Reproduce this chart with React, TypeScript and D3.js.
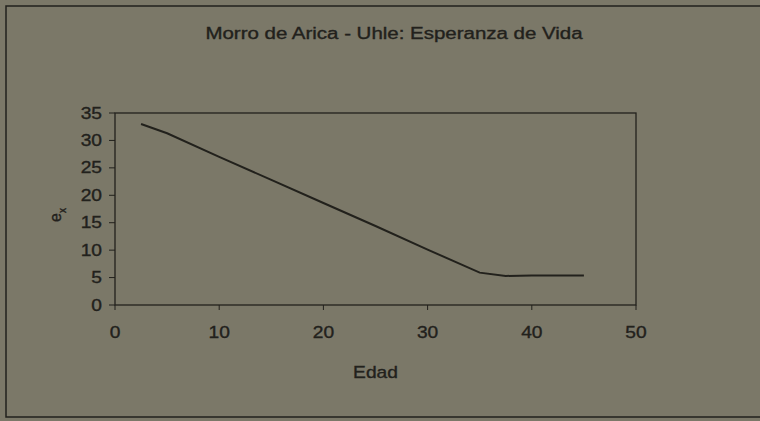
import React from "react"
import { scaleLinear, line } from "d3"

const edad = [2.5, 5, 10, 15, 20, 25, 30, 35, 37.5, 40, 45]
const ex = [33, 31.3, 27, 22.8, 18.6, 14.4, 10.1, 5.9, 5.3, 5.4, 5.4]
const xTicks = [0, 10, 20, 30, 40, 50]
const yTicks = [0, 5, 10, 15, 20, 25, 30, 35]

const title = "Morro de Arica - Uhle: Esperanza de Vida"
const xTitle = "Edad"

const width = 760
const height = 421
const margin = { top: 113, right: 124, bottom: 116, left: 115 }
const innerWidth = width - margin.left - margin.right
const innerHeight = height - margin.top - margin.bottom

const bg = "#7b7868"
const ink = "#22211c"
const font = "'Liberation Sans', Arial, sans-serif"

// scanned text looks wider than normal Arial, so stretch it a bit
const Label = ({ x, y, anchor, children, size = 16, sx = 1.2 }: any) => (
  <g transform={`translate(${x}, ${y}) scale(${sx}, 1)`}>
    <text
      textAnchor={anchor}
      dy="0.35em"
      fontSize={size}
      fontFamily={font}
      fill={ink}
      stroke={ink}
      strokeWidth={0.35}
    >
      {children}
    </text>
  </g>
)

const App = () => {
  const xScale = scaleLinear().domain([0, 50]).range([0, innerWidth])
  const yScale = scaleLinear().domain([0, 35]).range([innerHeight, 0])

  const data = edad.map((d, i) => [d, ex[i]] as [number, number])
  const path = line<[number, number]>()
    .x((d) => xScale(d[0]))
    .y((d) => yScale(d[1]))(data)

  return (
    <svg
      width={width}
      height={height}
      style={{ position: "absolute", left: 0, top: 0 }}
    >
      <rect width={width} height={height} fill={bg} />
      {/* outer chart frame, runs off the right edge */}
      <path
        d={`M${width + 5},6 H6 V417 H${width + 5}`}
        fill="none"
        stroke={ink}
        strokeWidth={1.5}
      />
      <Label x={394} y={33} anchor="middle" sx={1.28}>
        {title}
      </Label>
      <g transform={`translate(${margin.left}, ${margin.top})`}>
        <rect
          width={innerWidth}
          height={innerHeight}
          fill="none"
          stroke={ink}
          strokeWidth={1.3}
        />
        {yTicks.map((t) => (
          <g key={t} transform={`translate(0, ${yScale(t)})`}>
            <line x1={-6} x2={0} stroke={ink} strokeWidth={1} />
            <Label x={-13} y={0} anchor="end">
              {t}
            </Label>
          </g>
        ))}
        {xTicks.map((t) => (
          <g key={t} transform={`translate(${xScale(t)}, ${innerHeight})`}>
            <line y1={0} y2={5} stroke={ink} strokeWidth={1} />
            <Label x={0} y={27} anchor="middle">
              {t}
            </Label>
          </g>
        ))}
        <path d={path || ""} fill="none" stroke={ink} strokeWidth={2} />
        <Label x={innerWidth / 2} y={innerHeight + 67} anchor="middle">
          {xTitle}
        </Label>
      </g>
      <g transform="translate(55, 215) rotate(-90)">
        <text
          textAnchor="middle"
          dy="0.35em"
          fontSize={16}
          fontFamily={font}
          fill={ink}
          stroke={ink}
          strokeWidth={0.35}
        >
          e
          <tspan fontSize={10} dy="5">
            x
          </tspan>
        </text>
      </g>
    </svg>
  )
}

export default App
